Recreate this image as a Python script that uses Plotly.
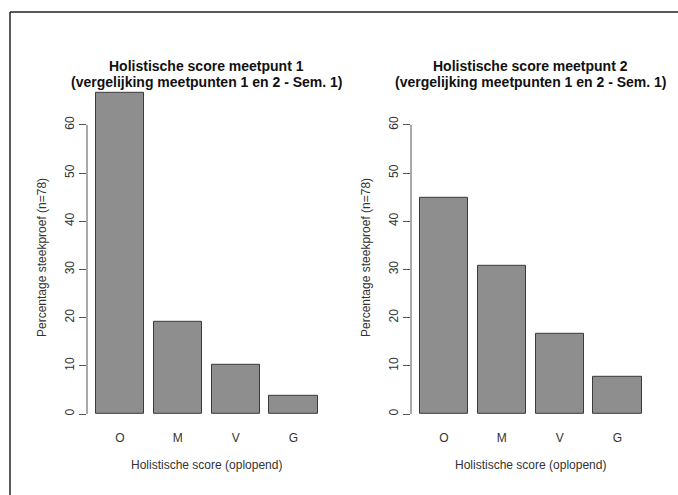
import plotly.graph_objects as go

# ---- data ----
categories = ["O", "M", "V", "G"]
meetpunt1 = [66.67, 19.23, 10.26, 3.85]   # % of n=78
meetpunt2 = [44.87, 30.77, 16.67, 7.69]
panel_titles = ["Holistische score meetpunt 1", "Holistische score meetpunt 2"]
subtitle = "(vergelijking meetpunten 1 en 2 - Sem. 1)"
y_title = "Percentage steekproef (n=78)"
x_title = "Holistische score (oplopend)"
y_ticks = [0, 10, 20, 30, 40, 50, 60]

W, H = 678, 495
FONT = "Liberation Sans, Arial, Helvetica, sans-serif"
BAR_FILL = "#8e8e8e"
BAR_LINE = "#3a3a3a"

# R barplot layout: width 1, space 0.2 -> in category units the plot
# spans 4% padding around [0.2, 4.8]
space = 0.2
n = len(categories)
lo, hi = space, n * (1 + space)
pad = 0.04 * (hi - lo)
xrange = [((lo - pad) - (space + 0.5)) / (1 + space),
          ((hi + pad) - (space + 0.5)) / (1 + space)]
ymax = max(meetpunt1 + meetpunt2)
yrange = [-0.04 * ymax, ymax * 1.04]

def px(x):
    return x / W

def py(y):
    return 1 - y / H

x_domains = [[px(87), px(326.5)], [px(411), px(650.5)]]
y_domain = [py(426.9), py(79.8)]

fig = go.Figure()
series = [meetpunt1, meetpunt2]
for i, vals in enumerate(series):
    xa = "x" if i == 0 else "x2"
    ya = "y" if i == 0 else "y2"
    fig.add_trace(go.Bar(
        x=categories, y=vals, xaxis=xa, yaxis=ya,
        marker=dict(color=BAR_FILL, line=dict(color=BAR_LINE, width=1)),
        width=1 / (1 + space), showlegend=False, hoverinfo="x+y",
    ))

axis_common_x = dict(range=xrange, showgrid=False, zeroline=False, showline=False,
                     ticks="", tickfont=dict(family=FONT, size=12, color="#333"),
                     ticklabelstandoff=2, fixedrange=True)
axis_common_y = dict(range=yrange, showgrid=False, zeroline=False, showline=False,
                     ticks="outside", ticklen=7, tickwidth=1, tickcolor="#555",
                     tickvals=y_ticks, tickangle=-90,
                     tickfont=dict(family=FONT, size=12, color="#333"), fixedrange=True)

fig.update_layout(
    width=W, height=H,
    margin=dict(l=0, r=0, t=0, b=0),
    paper_bgcolor="white", plot_bgcolor="white",
    bargap=0,
    xaxis=dict(domain=x_domains[0], anchor="y", **axis_common_x),
    yaxis=dict(domain=y_domain, anchor="x", **axis_common_y),
    xaxis2=dict(domain=x_domains[1], anchor="y2", **axis_common_x),
    yaxis2=dict(domain=y_domain, anchor="x2", **axis_common_y),
)

shapes = []
annotations = []
for i in range(2):
    xs = "x" if i == 0 else "x2"
    ys = "y" if i == 0 else "y2"
    # y axis line spanning the tick range only (R style)
    shapes.append(dict(type="line", xref=f"{xs} domain", yref=ys,
                       x0=0, x1=0, y0=y_ticks[0], y1=y_ticks[-1],
                       line=dict(color="#555", width=1)))
    cx = (x_domains[i][0] + x_domains[i][1]) / 2
    annotations.append(dict(text=f"<b>{panel_titles[i]}</b>", xref="paper", yref="paper",
                            x=cx, y=py(66), xanchor="center", yanchor="middle",
                            showarrow=False, font=dict(family=FONT, size=14, color="#111")))
    annotations.append(dict(text=f"<b>{subtitle}</b>", xref="paper", yref="paper",
                            x=cx, y=py(82), xanchor="center", yanchor="middle",
                            showarrow=False, font=dict(family=FONT, size=14, color="#111")))
    annotations.append(dict(text=x_title, xref="paper", yref="paper",
                            x=cx, y=py(465), xanchor="center", yanchor="middle",
                            showarrow=False, font=dict(family=FONT, size=12, color="#333")))
    ax_x = x_domains[i][0] * W - 45
    annotations.append(dict(text=y_title, xref="paper", yref="paper",
                            x=px(ax_x), y=py(258), xanchor="center", yanchor="middle",
                            textangle=-90, showarrow=False,
                            font=dict(family=FONT, size=12, color="#333")))

# outer frame (top and left edges visible in the reference)
shapes.append(dict(type="line", xref="paper", yref="paper",
                   x0=px(10), x1=1, y0=py(12), y1=py(12), line=dict(color="#222", width=1.5)))
shapes.append(dict(type="line", xref="paper", yref="paper",
                   x0=px(10), x1=px(10), y0=0, y1=py(12), line=dict(color="#222", width=1.5)))

fig.update_layout(shapes=shapes, annotations=annotations)
fig.write_html("out.html",
               config={"displayModeBar": False},
               post_script="document.body.style.margin='0px';"
                           "document.body.style.overflow='hidden';")
